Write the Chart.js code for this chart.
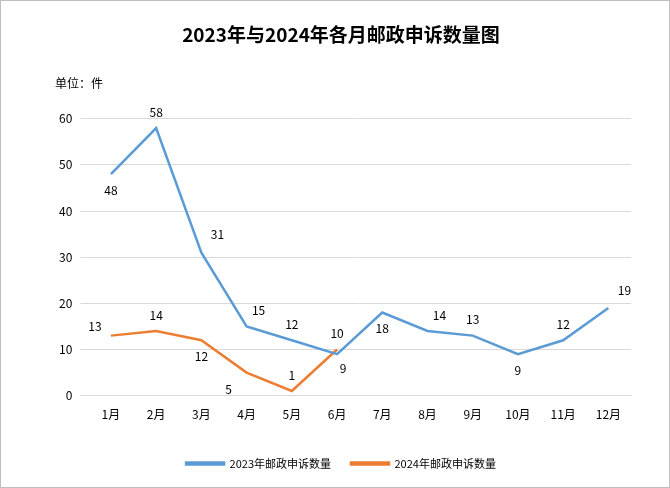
<!DOCTYPE html>
<html><head><meta charset="utf-8">
<script src="https://cdn.jsdelivr.net/npm/chart.js@4/dist/chart.umd.min.js"></script>
<style>
html,body{margin:0;padding:0;background:#fff}
#wrap{position:relative;width:668px;height:486px;border:1px solid #bfbfbf}
</style></head><body>
<div id="wrap"><canvas id="c" width="668" height="486"></canvas></div>
<script>
const categories=['1月','2月','3月','4月','5月','6月','7月','8月','9月','10月','11月','12月'];
const series2023=[48,58,31,15,12,9,18,14,13,9,12,19];
const series2024=[13,14,12,5,1,10];
const label2023='2023年邮政申诉数量';
const label2024='2024年邮政申诉数量';
const pos2023=['b','t','r','tr','t','br','b','tr','t','b','t','r'];
const pos2024=['l','t','b','bl','t','t'];
const F='"Noto Sans CJK SC","Noto Sans",sans-serif';
const labelPlugin={id:'lbl',afterDatasetsDraw(ch){
  const ctx=ch.ctx;ctx.save();ctx.font='12px '+F;ctx.fillStyle='#000';ctx.textAlign='center';ctx.textBaseline='middle';
  [pos2023,pos2024].forEach((P,di)=>{
    ch.getDatasetMeta(di).data.forEach((pt,i)=>{
      const v=ch.data.datasets[di].data[i];const p=P[i];let dx=0,dy=0;
      if(p==='b')dy=16;if(p==='t')dy=-16;if(p==='r'){dx=16;dy=-18;}if(p==='tr'){dx=12;dy=-16;}
      if(p==='br'){dx=6;dy=14;}if(p==='l'){dx=-16;dy=-9;}if(p==='bl'){dx=-18;dy=17;}
      ctx.fillText(v,pt.x+dx,pt.y+dy);
    });
  });
  ctx.font='12px '+F;ctx.textAlign='left';ctx.fillText('单位：件',54,82);
  ctx.restore();}};
new Chart(document.getElementById('c'),{type:'line',
 data:{labels:categories,datasets:[
  {label:label2023,data:series2023,borderColor:'#5b9bd5',backgroundColor:'#5b9bd5',borderWidth:2.5,pointRadius:0,tension:0},
  {label:label2024,data:series2024,borderColor:'#ed7d31',backgroundColor:'#ed7d31',borderWidth:2.5,pointRadius:0,tension:0}]},
 options:{responsive:false,animation:false,
  layout:{padding:{left:50,right:38,top:10,bottom:8}},
  plugins:{title:{display:true,text:'2023年与2024年各月邮政申诉数量图',font:{family:F,size:19,weight:'bold'},color:'#000',padding:{top:12,bottom:73}},
   legend:{position:'bottom',labels:{boxWidth:38,boxHeight:2,font:{family:F,size:11},color:'#000',padding:20}},tooltip:{enabled:false}},
  scales:{x:{offset:true,grid:{display:false},border:{color:'#d9d9d9'},ticks:{font:{family:F,size:12},color:'#000',padding:4},afterFit(s){s.height+=12;}},
   y:{min:0,max:60,ticks:{stepSize:10,font:{family:F,size:12},color:'#000',padding:8},grid:{color:'#d9d9d9'},border:{display:false}}}},
 plugins:[labelPlugin]});
</script></body></html>
